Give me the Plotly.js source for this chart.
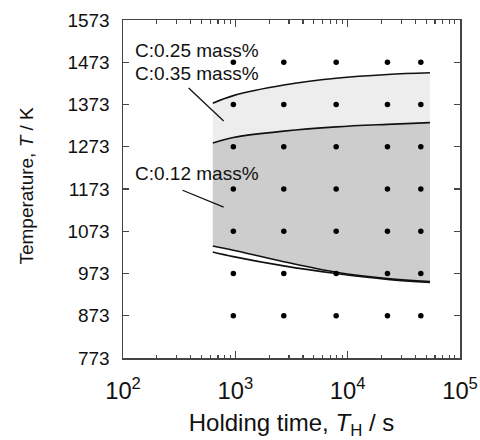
<!DOCTYPE html>
<html>
<head>
<meta charset="utf-8">
<script src="https://cdn.plot.ly/plotly-3.0.1.min.js"></script>
<style>
  html, body { margin: 0; padding: 0; background: #fff; }
  #chart { width: 480px; height: 440px; }
</style>
</head>
<body>
<div id="chart"></div>
<script>
// Experimental holding conditions (s, K)
const holdTimes = [960, 2700, 7900, 22600, 44800];
const holdTemps = [873, 973, 1073, 1173, 1273, 1373, 1473];

// Boundary curves
const upperTime = [630, 960, 2700, 7900, 22600, 54000];
const upperTemp = [1376, 1394, 1419, 1435, 1444, 1448];

const midTime = [630, 960, 2700, 7900, 22600, 54000];
const midTemp = [1282, 1295, 1310, 1320, 1326, 1330];

const lowATime = [630, 960, 2700, 7900, 22600, 54000];
const lowATemp = [1038, 1028, 1001, 976, 961, 954];

const lowBTime = [630, 960, 2700, 7900, 22600, 54000];
const lowBTemp = [1024, 1013, 991, 973, 959, 952];

// Label leader lines
const leader35Time = [384, 787];
const leader35Temp = [1412, 1334];
const leader12Time = [339, 787];
const leader12Temp = [1170, 1130];

const FONT = 'Liberation Sans, Arial, sans-serif';
const lineStyle = {color: '#111', width: 1.6, shape: 'spline', smoothing: 1};

const dotX = [], dotY = [];
holdTemps.forEach(T => holdTimes.forEach(t => { dotX.push(t); dotY.push(T); }));

const traces = [
  {x: lowATime, y: lowATemp, mode: 'lines', line: lineStyle, hoverinfo: 'skip'},
  {x: midTime, y: midTemp, mode: 'lines', line: lineStyle, fill: 'tonexty', fillcolor: '#cdcdcd', hoverinfo: 'skip'},
  {x: upperTime, y: upperTemp, mode: 'lines', line: lineStyle, fill: 'tonexty', fillcolor: '#ededed', hoverinfo: 'skip'},
  {x: lowBTime, y: lowBTemp, mode: 'lines', line: lineStyle, hoverinfo: 'skip'},
  {x: leader35Time, y: leader35Temp, mode: 'lines', line: {color: '#111', width: 1.3}, hoverinfo: 'skip'},
  {x: leader12Time, y: leader12Temp, mode: 'lines', line: {color: '#111', width: 1.3}, hoverinfo: 'skip'},
  {x: dotX, y: dotY, mode: 'markers', marker: {color: '#000', size: 5.5}}
];

const axisCommon = {
  showline: true, linecolor: '#444', linewidth: 1.5, mirror: 'ticks',
  ticks: 'inside', tickcolor: '#444', tickwidth: 1.3,
  showgrid: false, zeroline: false,
  tickfont: {family: FONT, size: 19, color: '#111'}
};

const layout = {
  width: 480, height: 440,
  margin: {l: 123, r: 20, t: 20, b: 82},
  paper_bgcolor: '#fff', plot_bgcolor: '#fff',
  showlegend: false,
  font: {family: FONT, color: '#111'},
  xaxis: Object.assign({}, axisCommon, {
    type: 'log', range: [2, 5], dtick: 1, exponentformat: 'power',
    ticklen: 7, ticklabelstandoff: 12,
    minor: {ticks: 'inside', ticklen: 3.5, dtick: 'D1', tickcolor: '#444', tickwidth: 1.2, showgrid: false},
    title: {text: 'Holding time, <i>T</i><sub>H</sub> / s', font: {family: FONT, size: 24, color: '#111'}, standoff: 13}
  }),
  yaxis: Object.assign({}, axisCommon, {
    range: [773, 1573], tick0: 773, dtick: 100, ticklen: 6,
    ticklabelstandoff: 8,
    title: {text: ''}
  }),
  annotations: [
    {text: 'Temperature, <i>T</i> / K', xref: 'paper', yref: 'paper', x: -0.285, y: 0.51,
     xanchor: 'center', yanchor: 'middle', textangle: -90, showarrow: false,
     font: {family: FONT, size: 19, color: '#111'}},
    {text: 'C:0.25 mass%', xref: 'x', yref: 'y', x: 2.085, y: 1502, xanchor: 'left', yanchor: 'middle',
     showarrow: false, font: {family: FONT, size: 19, color: '#111'}},
    {text: 'C:0.35 mass%', xref: 'x', yref: 'y', x: 2.085, y: 1446, xanchor: 'left', yanchor: 'middle',
     showarrow: false, font: {family: FONT, size: 19, color: '#111'}},
    {text: 'C:0.12 mass%', xref: 'x', yref: 'y', x: 2.085, y: 1209, xanchor: 'left', yanchor: 'middle',
     showarrow: false, font: {family: FONT, size: 19, color: '#111'}}
  ]
};

Plotly.newPlot('chart', traces, layout, {staticPlot: true, displayModeBar: false});
</script>
</body>
</html>
